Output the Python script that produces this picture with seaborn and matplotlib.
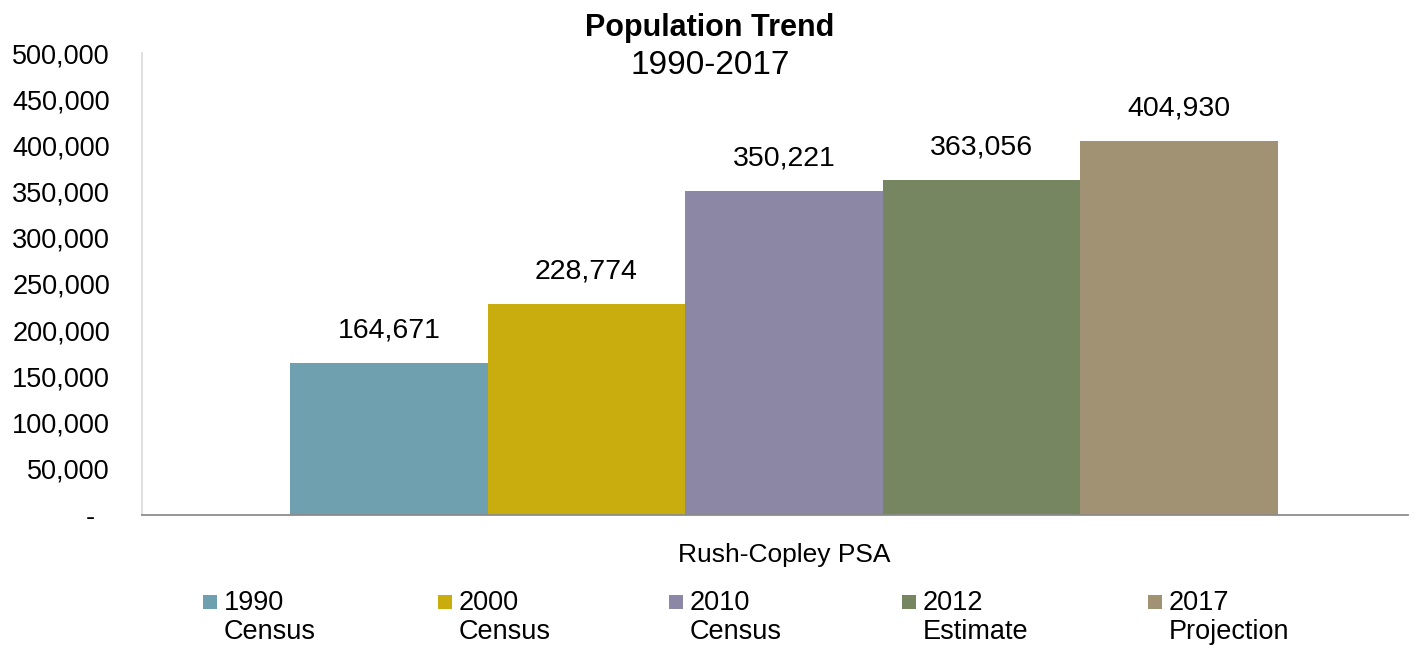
import matplotlib
matplotlib.use("Agg")
import matplotlib.pyplot as plt
import matplotlib.ticker as mticker
from matplotlib.patches import Rectangle
import seaborn as sns
import pandas as pd

# Population figures for the Rush-Copley primary service area
area = "Rush-Copley PSA"
series = ["1990\nCensus", "2000\nCensus", "2010\nCensus", "2012\nEstimate", "2017\nProjection"]
population = [164671, 228774, 350221, 363056, 404930]
colors = ["#6FA0AF", "#C9AD0E", "#8B87A5", "#768660", "#A09272"]
y_ticks = [0, 50000, 100000, 150000, 200000, 250000, 300000, 350000, 400000, 450000, 500000]

df = pd.DataFrame({"area": [area] * len(series), "series": series, "population": population})

sns.set_theme(style="white")
plt.rcParams["font.family"] = ["Liberation Sans", "DejaVu Sans"]

W, H = 1410, 645
fig = plt.figure(figsize=(W / 100, H / 100), dpi=100)
ax = fig.add_axes([0.1007, 0.2016, 0.898, 0.7162])

sns.barplot(data=df, x="area", y="population", hue="series", hue_order=series,
            palette=colors, width=0.78, saturation=1, linewidth=0, ax=ax, legend=False)

for container in ax.containers:
    ax.bar_label(container, labels=[f"{v:,.0f}" for v in container.datavalues],
                 padding=14, fontsize=20.5, color="#000000")

ax.set_xlim(-0.507, 0.493)
ax.set_ylim(0, 500000)
ax.set_yticks(y_ticks)
ax.yaxis.set_major_formatter(mticker.FuncFormatter(lambda v, p: "-  " if v == 0 else f"{v:,.0f}"))
ax.tick_params(axis="y", labelsize=19.5, length=0, pad=23, colors="#000000")
ax.tick_params(axis="x", labelsize=19, length=0, pad=20, colors="#000000")
ax.set_xlabel("")
ax.set_ylabel("")

for side in ["top", "right"]:
    ax.spines[side].set_visible(False)
ax.spines["left"].set_color("#D9D9D9")
ax.spines["left"].set_linewidth(1.2)
ax.spines["bottom"].set_color("#8C8C8C")
ax.spines["bottom"].set_linewidth(1.3)

fig.text(0.5035, 1 - 28 / H, "Population Trend", ha="center", va="center",
         fontsize=22, fontweight="bold", color="#000000")
fig.text(0.5035, 1 - 66 / H, "1990-2017", ha="center", va="center", fontsize=24, color="#000000")

# Legend: square swatch beside a two-line label
legend_left = [203, 438, 669, 902, 1148]
for x0, label, c in zip(legend_left, series, colors):
    fig.add_artist(Rectangle((x0 / W, 1 - 609 / H), 14 / W, 14 / H,
                             transform=fig.transFigure, facecolor=c, edgecolor="none"))
    first, second = label.split("\n")
    fig.text((x0 + 21) / W, 1 - 603 / H, first, ha="left", va="center",
             fontsize=19.5, color="#000000")
    fig.text((x0 + 21) / W, 1 - 632 / H, second, ha="left", va="center",
             fontsize=19.5, color="#000000")

fig.savefig("out.png", dpi=100)
